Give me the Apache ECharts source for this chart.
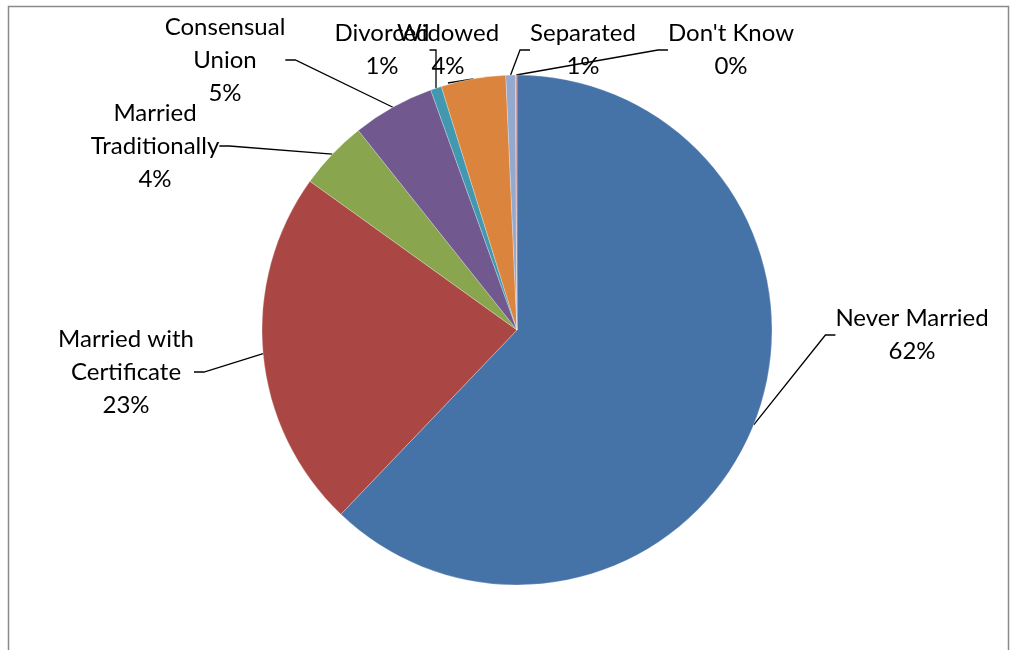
<!DOCTYPE html>
<html>
<head>
<meta charset="utf-8">
<script src="https://cdn.jsdelivr.net/npm/echarts@6/dist/echarts.min.js"></script>
<style>
html,body{margin:0;padding:0;background:#fff;}
#main{width:1015px;height:650px;}
</style>
</head>
<body>
<div id="main"></div>
<script>
var categories = ['Never Married', 'Married with\nCertificate', 'Married\nTraditionally', 'Consensual\nUnion', 'Divorced', 'Widowed', 'Separated', "Don't Know"];
var values = [62.2, 22.8, 4.4, 5.2, 0.7, 4.1, 0.6, 0.1];
var colors = ['#4572A7', '#AA4643', '#89A54E', '#71588F', '#4198AF', '#DB843D', '#93A9CF', '#D19392'];
// label block centres (layout only)
var labelPos = [[912, 335], [126, 372], [155, 146], [225, 60], [382, 50], [448, 50], [583, 50], [731, 50]];

var chart = echarts.init(document.getElementById('main'));
var data = categories.map(function (c, i) {
  return { name: c, value: values[i], itemStyle: { color: colors[i] } };
});
chart.setOption({
  animation: false,
  graphic: [{
    type: 'rect',
    shape: { x: 8.5, y: 6.5, width: 1000, height: 700 },
    style: { fill: 'none', stroke: '#8a8a8a', lineWidth: 1.5 },
    silent: true
  }],
  series: [{
    type: 'pie',
    center: [517, 330],
    radius: 255,
    startAngle: 90,
    clockwise: true,
    data: data,
    itemStyle: { borderColor: 'rgba(255,255,255,0.5)', borderWidth: 0.5 },
    label: {
      show: true,
      formatter: function (p) { return p.name + '\n' + Math.round(p.value) + '%'; },
      fontFamily: 'Lato',
      fontSize: 24,
      lineHeight: 33,
      color: '#000',
      align: 'center'
    },
    labelLine: { show: true, length: 10, length2: 10, lineStyle: { color: '#000', width: 1.3 } },
    labelLayout: function (params) {
      var p = labelPos[params.dataIndex];
      return { x: p[0], y: p[1], align: 'center', verticalAlign: 'middle' };
    }
  }]
});
</script>
</body>
</html>
